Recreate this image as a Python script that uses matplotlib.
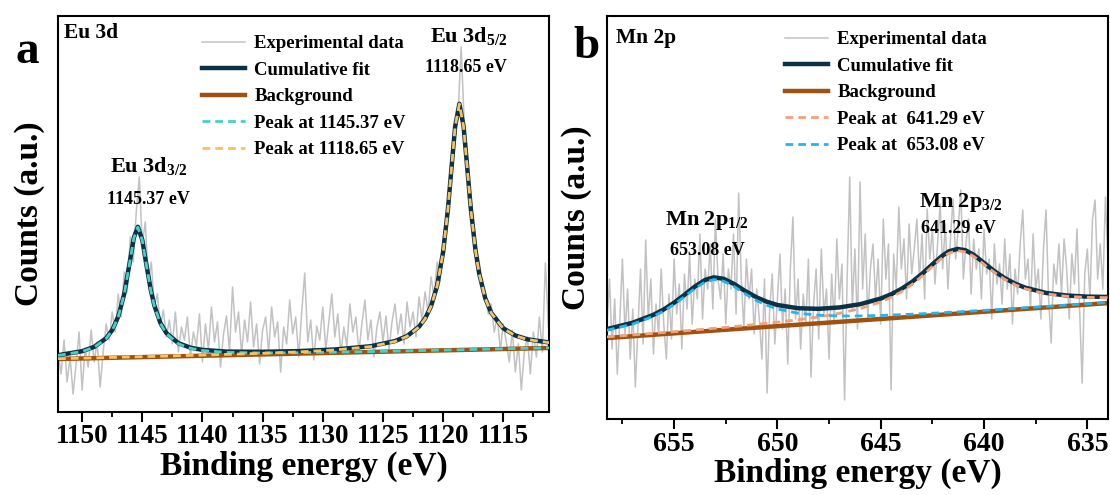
import numpy as np
import matplotlib
matplotlib.use('Agg')
import matplotlib.pyplot as plt
from matplotlib.ticker import MultipleLocator

plt.rcParams['font.family'] = ['Liberation Serif', 'DejaVu Serif']
plt.rcParams['font.weight'] = 'bold'
plt.rcParams['axes.labelweight'] = 'bold'
plt.rcParams['mathtext.fontset'] = 'custom'
plt.rcParams['mathtext.rm'] = 'Liberation Serif:bold'
plt.rcParams['mathtext.bf'] = 'Liberation Serif:bold'

# ---------------- Eu 3d (panel a), counts in a.u. ----------------
eu_exp_x = np.linspace(1152.0, 1111.25, 164)   # 0.25 eV steps
eu_exp = [60, 38, 72, 30, 55, 18, 48, 80, 22, 64,
          45, 82, 50, 70, 25, 60, 88, 72, 100, 80,
          118, 95, 140, 120, 175, 150, 200, 235, 168, 190,
          130, 150, 105, 118, 85, 102, 75, 92, 68, 100,
          60, 85, 72, 95, 55, 80, 66, 98, 50, 88,
          62, 105, 70, 90, 45, 78, 96, 60, 125, 80,
          100, 58, 92, 70, 110, 65, 88, 48, 82, 95,
          60, 105, 75, 90, 40, 85, 68, 112, 78, 95,
          55, 100, 139, 70, 92, 52, 86, 72, 105, 62,
          90, 118, 75, 98, 58, 85, 66, 108, 80, 95,
          60, 88, 112, 72, 92, 55, 85, 100, 70, 96,
          62, 90, 108, 78, 98, 68, 110, 85, 100, 75,
          115, 92, 120, 100, 135, 115, 150, 130, 172, 190,
          215, 250, 278, 300, 365, 290, 262, 220, 195, 165,
          150, 128, 118, 98, 108, 80, 95, 62, 88, 70,
          50, 82, 40, 68, 22, 60, 75, 38, 80, 55,
          95, 60, 149, 85]

eu_fit_x = [1152, 1150, 1149, 1148, 1147.5, 1147, 1146.5, 1146, 1145.7, 1145.37,
            1145, 1144.7, 1144.3, 1144, 1143.5, 1143, 1142, 1141, 1140, 1138,
            1135, 1132, 1129, 1126, 1124, 1123, 1122, 1121.5, 1121, 1120.5,
            1120, 1119.6, 1119.3, 1119, 1118.65, 1118.3, 1118, 1117.7, 1117.3, 1117,
            1116.5, 1116, 1115, 1114, 1113, 1111.2]
eu_cum = [56.8, 60.8, 65.1, 73.8, 81.9, 95.4, 118.1, 152.9, 174.4, 185.2,
          172.1, 150.2, 122.3, 106.6, 89.1, 79.0, 68.8, 64.3, 62.1, 60.4,
          60.2, 60.9, 62.5, 65.8, 70.9, 75.9, 85.3, 93.4, 105.8, 126.0,
          160.0, 202.9, 244.5, 285.5, 308.2, 285.7, 244.8, 203.4, 160.7, 138.4,
          113.8, 99.1, 83.7, 76.5, 72.7, 69.5]
eu_peak_1145 = [56.5, 60.5, 64.7, 73.4, 81.6, 95.0, 117.8, 152.5, 174.0, 184.8,
                171.7, 149.8, 121.9, 106.1, 88.7, 78.5, 68.2, 63.7, 61.5, 59.6,
                59.0, 59.3, 59.8, 60.4, 60.9, 61.1, 61.4, 61.5, 61.6, 61.8,
                61.9, 62.0, 62.1, 62.1, 62.2, 62.3, 62.4, 62.5, 62.6, 62.7,
                62.8, 62.9, 63.2, 63.5, 63.7, 64.2]
eu_peak_1118 = [53.3, 53.8, 54.1, 54.4, 54.6, 54.7, 54.9, 55.0, 55.1, 55.2,
                55.3, 55.4, 55.5, 55.6, 55.7, 55.9, 56.3, 56.6, 56.9, 57.6,
                58.7, 60.1, 62.0, 65.4, 70.5, 75.6, 85.0, 93.1, 105.6, 125.8,
                159.8, 202.7, 244.2, 285.3, 308.0, 285.5, 244.6, 203.2, 160.5, 138.2,
                113.6, 98.9, 83.5, 76.3, 72.5, 69.3]
eu_bg_x = [1152, 1111.2]
eu_bg = [53.0, 64.0]

# ---------------- Mn 2p (panel b), counts in a.u. ----------------
mn_exp_x = np.linspace(658.25, 634.0, 195)   # 0.125 eV steps
mn_exp = [95, 140, 70, 120, 45, 100, 160, 85,
          130, 60, 110, 32, 90, 150, 75, 179,
          100, 140, 65, 115, 85, 150, 95, 60,
          125, 80, 160, 105, 135, 70, 145, 110,
          165, 95, 140, 120, 185, 100, 150, 130,
          175, 110, 200, 140, 120, 165, 95, 150,
          130, 185, 105, 226, 140, 90, 160, 120,
          150, 85, 130, 100, 60, 140, 26, 110,
          145, 75, 120, 165, 90, 130, 55, 150,
          202, 100, 140, 70, 125, 95, 160, 42,
          115, 150, 80, 170, 105, 130, 60, 145,
          95, 180, 120, 155, 19, 140, 242, 110,
          170, 90, 237, 130, 185, 100, 150, 175,
          120, 160, 95, 200, 140, 175, 29, 165,
          130, 212, 150, 180, 120, 195, 145, 170,
          200, 140, 185, 120, 210, 160, 190, 135,
          175, 215, 150, 195, 130, 180, 220, 160,
          190, 229, 140, 175, 200, 125, 180, 150,
          170, 120, 190, 145, 160, 100, 175, 135,
          155, 115, 180, 130, 165, 95, 150, 125,
          175, 209, 140, 160, 110, 185, 130, 150,
          100, 170, 209, 120, 76, 155, 135, 175,
          125, 180, 150, 100, 165, 135, 190, 110,
          36, 145, 170, 120, 200, 219, 140, 175,
          130, 222, 160]

mn_fit_x = [658.25, 657, 656, 655.5, 655, 654.5, 654, 653.5, 653.08, 652.6,
            652.1, 651.6, 651, 650.5, 650, 649, 648, 647, 646, 645,
            644.5, 644, 643.5, 643, 642.5, 642, 641.7, 641.29, 640.9, 640.5,
            640, 639.5, 639, 638.5, 638, 637, 636, 635, 634]
mn_cum = [89.9, 96.3, 104.2, 109.6, 116.3, 124.2, 132.4, 139.1, 141.7, 140.2,
          135.1, 128.5, 121.6, 117.2, 114.0, 110.8, 110.2, 111.6, 114.8, 120.5,
          124.7, 130.1, 136.9, 145.2, 154.7, 163.6, 167.7, 170.1, 168.8, 164.2,
          156.1, 147.9, 140.9, 135.4, 131.3, 126.1, 123.5, 122.4, 122.1]
mn_peak_653 = [88.8, 95.0, 102.7, 108.0, 114.6, 122.4, 130.5, 137.0, 139.4, 137.8,
               132.5, 125.7, 118.3, 113.7, 110.1, 105.8, 103.8, 103.1, 103.1, 103.6,
               104.0, 104.4, 104.8, 105.3, 105.8, 106.3, 106.7, 107.1, 107.6, 108.1,
               108.7, 109.3, 109.9, 110.6, 111.2, 112.5, 113.9, 115.2, 116.6]
mn_peak_641 = [82.1, 84.1, 85.7, 86.5, 87.3, 88.2, 89.0, 89.9, 90.7, 91.5,
               92.5, 93.4, 94.7, 95.7, 96.8, 99.3, 102.1, 105.7, 110.4, 117.0,
               121.6, 127.2, 134.3, 142.9, 152.6, 161.7, 165.8, 168.4, 167.1, 162.7,
               154.7, 146.6, 139.7, 134.3, 130.2, 125.2, 122.7, 121.6, 121.4]
mn_bg_x = [658.25, 634.0]
mn_bg = [81.0, 115.9]

# colours
c_exp = '#c2c2c2'
c_cum = '#0b3147'
c_bg = '#a0500f'
dash = (0, (2.8, 1.8))

fig = plt.figure(figsize=(11.1, 4.95), dpi=100)
ax_a = fig.add_axes([0.0523, 0.1677, 0.4423, 0.8])
ax_b = fig.add_axes([0.5468, 0.1535, 0.4514, 0.8141])


def style_axis(ax, xlim, ylim, tick_size):
    ax.set_xlim(*xlim)
    ax.set_ylim(*ylim)
    ax.set_yticks([])
    ax.xaxis.set_major_locator(MultipleLocator(5))
    ax.xaxis.set_minor_locator(MultipleLocator(2.5))
    ax.tick_params(axis='x', which='major', direction='out', length=7, width=1.5,
                   labelsize=tick_size, pad=2)
    ax.tick_params(axis='x', which='minor', direction='out', length=3.5, width=1.3)
    for s in ax.spines.values():
        s.set_linewidth(1.5)
    ax.set_xlabel('Binding energy (eV)', fontsize=24, labelpad=1)


def add_legend(ax, x0, y0):
    ax.legend(loc='upper left', bbox_to_anchor=(x0, y0), frameon=False, fontsize=13.5,
              handlelength=2.3, handletextpad=0.5, labelspacing=0.5,
              borderpad=0, borderaxespad=0)


# ---- panel a ----
ax_a.plot(eu_exp_x, eu_exp, color=c_exp, lw=1.1, label='Experimental data', zorder=1)
ax_a.plot(eu_fit_x, eu_cum, color=c_cum, lw=3.2, label='Cumulative fit', zorder=3)
ax_a.plot(eu_bg_x, eu_bg, color=c_bg, lw=3.2, label='Background', zorder=2)
ax_a.plot(eu_fit_x, eu_peak_1145, color='#45d1c5', lw=2, ls=dash,
          label='Peak at 1145.37 eV', zorder=4)
ax_a.plot(eu_fit_x, eu_peak_1118, color='#f7c35e', lw=2, ls=dash,
          label='Peak at 1118.65 eV', zorder=4)
style_axis(ax_a, (1152.0, 1111.2), (0, 396), 19.5)
ax_a.set_ylabel('Counts (a.u.)', fontsize=24)
ax_a.yaxis.set_label_coords(-0.026, 0.5)
add_legend(ax_a, 0.293, 0.952)
ax_a.text(0.012, 0.957, 'Eu 3d', transform=ax_a.transAxes, fontsize=15.5,
          ha='left', va='center')
ax_a.text(1144.5, 245, r'Eu 3d$_{\mathbf{3/2}}$', fontsize=16, ha='center', va='center')
ax_a.text(1144.5, 212, '1145.37 eV', fontsize=13, ha='center', va='center')
ax_a.text(1117.9, 375, r'Eu 3d$_{\mathbf{5/2}}$', fontsize=16, ha='center', va='center')
ax_a.text(1118.1, 344, '1118.65 eV', fontsize=13, ha='center', va='center')

# ---- panel b ----
ax_b.plot(mn_exp_x, mn_exp, color=c_exp, lw=1.1, label='Experimental data', zorder=1)
ax_b.plot(mn_fit_x, mn_cum, color=c_cum, lw=3.2, label='Cumulative fit', zorder=3)
ax_b.plot(mn_bg_x, mn_bg, color=c_bg, lw=3.2, label='Background', zorder=2)
ax_b.plot(mn_fit_x, mn_peak_641, color='#f5a07a', lw=2, ls=dash,
          label='Peak at  641.29 eV', zorder=4)
ax_b.plot(mn_fit_x, mn_peak_653, color='#22b5ee', lw=2, ls=dash,
          label='Peak at  653.08 eV', zorder=4)
style_axis(ax_b, (658.25, 634.0), (0, 403), 20)
ax_b.set_ylabel('Counts (a.u.)', fontsize=24)
ax_b.yaxis.set_label_coords(-0.03, 0.5)
add_legend(ax_b, 0.355, 0.963)
ax_b.text(0.018, 0.945, 'Mn 2p', transform=ax_b.transAxes, fontsize=15.5,
          ha='left', va='center')
ax_b.text(653.4, 199, r'Mn 2p$_{\mathbf{1/2}}$', fontsize=16, ha='center', va='center')
ax_b.text(653.4, 169, '653.08 eV', fontsize=13, ha='center', va='center')
ax_b.text(641.14, 217, r'Mn 2p$_{\mathbf{3/2}}$', fontsize=16, ha='center', va='center')
ax_b.text(641.24, 191, '641.29 eV', fontsize=13, ha='center', va='center')

# panel letters
fig.text(27 / 1110, 1 - 63 / 495, 'a', fontsize=34, ha='center', va='baseline')
fig.text(586 / 1110, 1 - 58 / 495, 'b', fontsize=34, ha='center', va='baseline')

fig.savefig('out.png', dpi=100)
